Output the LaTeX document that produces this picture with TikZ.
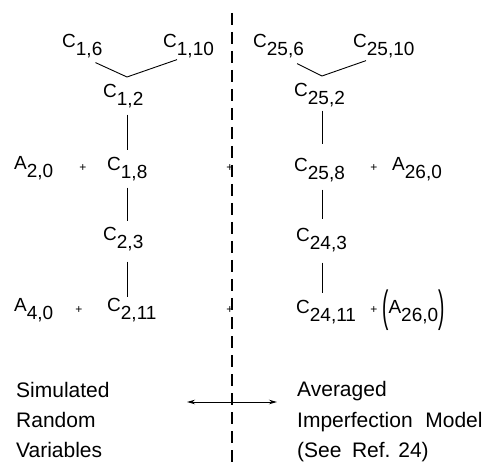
\documentclass[tikz,border=0pt]{standalone}
\usepackage{fontspec}
\setmainfont{Liberation Sans}
\usetikzlibrary{arrows.meta}
\newcommand{\vname}[2]{#1\raisebox{-8pt}{#2}}
\newcommand{\tallparen}[1]{\raisebox{-8pt}{\scalebox{1}[2.3]{#1}}}

\begin{document}
\begin{tikzpicture}[
    x=1pt, y=-1pt,
    sym/.style={anchor=base west, inner sep=0pt, font=\fontsize{19}{19}\selectfont},
    note/.style={anchor=base west, inner sep=0pt, font=\fontsize{21}{21}\selectfont},
    plus/.style={inner sep=0pt, font=\fontsize{12}{12}\selectfont},
    link/.style={line width=0.9pt},
    divider/.style={line width=1.6pt, dash pattern=on 12pt off 7pt},
    arrow/.style={{Stealth[length=8pt, width=4.5pt]}-{Stealth[length=8pt, width=4.5pt]}, line width=0.9pt}
  ]
  \useasboundingbox (0,0) rectangle (488,468);

  % left column: simulated
  \node[sym] (c16) at (62,48) {\vname{C}{1,6}};
  \node[sym] (c110) at (163,48) {\vname{C}{1,10}};
  \node[sym] (c12) at (103,98) {\vname{C}{1,2}};
  \node[sym] (a20) at (14,170) {\vname{A}{2,0}};
  \node[plus] (p1) at (83,168) {+};
  \node[sym] (c18) at (107,171) {\vname{C}{1,8}};
  \node[sym] (c23) at (103,241) {\vname{C}{2,3}};
  \node[sym] (a40) at (14,312) {\vname{A}{4,0}};
  \node[plus] (p2) at (79,310) {+};
  \node[sym] (c211) at (107,312) {\vname{C}{2,11}};

  \coordinate (v1) at (127,77);
  \draw[link] ([shift={(-7,4)}]c16.south east) -- (v1) -- ([shift={(14,1)}]c110.south west);
  \draw[link, shorten <=6pt, shorten >=8pt] (c12.south -| v1) -- (c18.north -| v1);
  \draw[link, shorten <=6pt, shorten >=7pt] (c18.south -| v1) -- (c23.north -| v1);
  \draw[link, shorten <=10pt, shorten >=2pt] (c23.south -| v1) -- (c211.north -| v1);

  % divider
  \coordinate (top) at (232,13);
  \coordinate (bottom) at (232,466);
  \draw[divider] (top) -- (bottom);
  \node[plus] (p3) at (230,168) {+};
  \node[plus] (p4) at (230,310) {+};

  % right column: averaged
  \node[sym] (c256) at (253,48) {\vname{C}{25,6}};
  \node[sym] (c2510) at (353,48) {\vname{C}{25,10}};
  \node[sym] (c252) at (294,97) {\vname{C}{25,2}};
  \node[sym] (c258) at (294,172) {\vname{C}{25,8}};
  \node[plus] (p5) at (374,168) {+};
  \node[sym] (a260) at (392,171) {\vname{A}{26,0}};
  \node[sym] (c243) at (296,242) {\vname{C}{24,3}};
  \node[sym] (c2411) at (296,313) {\vname{C}{24,11}};
  \node[plus] (p6) at (374,310) {+};
  \node[sym] (a260b) at (382,313) {\tallparen{(}\vname{A}{26,0}\tallparen{)}};

  \coordinate (v2) at (322,76);
  \draw[link] ([shift={(-7,5)}]c256.south east) -- (v2) -- ([shift={(13,2)}]c2510.south west);
  \draw[link, shorten <=3pt, shorten >=15pt] (c252.south -| v2) -- (c258.north -| v2);
  \draw[link, shorten <=7pt, shorten >=10pt] (c258.south -| v2) -- (c243.north -| v2);
  \draw[link, shorten <=10pt, shorten >=7pt] (c243.south -| v2) -- (c2411.north -| v2);

  % captions
  \node[note] (sim1) at (16,397) {Simulated};
  \node[note] (sim2) at (16,427) {Random};
  \node[note] (sim3) at (16,457) {Variables};
  \node[note] (avg1) at (297,396) {Averaged};
  \node[note] (avg2) at (297,427) {Imperfection\hspace{0.6em}Model};
  \node[note] (avg3) at (297,457) {(See\hspace{0.5em}Ref. 24)};

  \coordinate (al) at (187,402);
  \coordinate (ar) at (277,402);
  \draw[arrow] (al) -- (ar);
\end{tikzpicture}
\end{document}
